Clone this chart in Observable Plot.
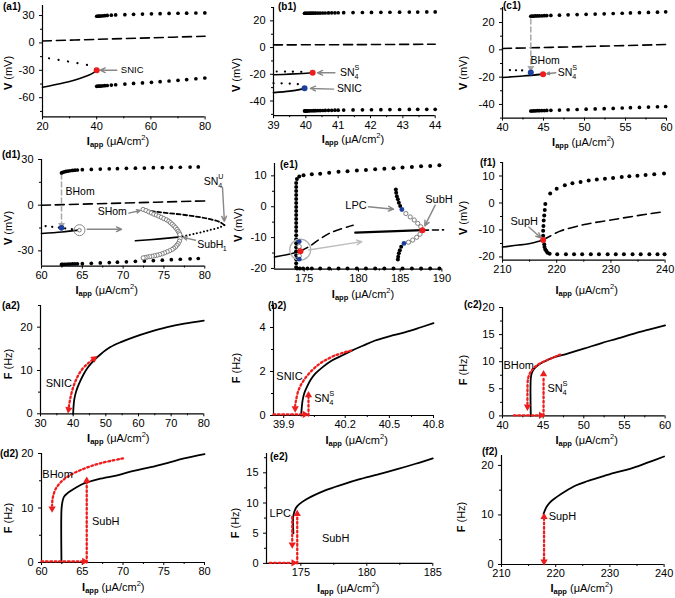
<!DOCTYPE html>
<html>
<head>
<meta charset="utf-8">
<script src="https://cdn.jsdelivr.net/npm/d3@7"></script>
<script src="https://cdn.jsdelivr.net/npm/@observablehq/plot@0.6"></script>
<style>
html,body{margin:0;padding:0;background:#fff;}
#fig{position:relative;width:675px;height:598px;overflow:hidden;background:#fff;font-family:"Liberation Sans",Arial,sans-serif;color:#000;}
.t{position:absolute;white-space:nowrap;font-size:11px;line-height:1;}
.pl{font-weight:bold;font-size:10px;transform:translateY(-50%);}
.xt{transform:translate(-50%,-50%);}
.yt{transform:translate(-50%,-50%) rotate(-90deg);}
.t sub{font-size:7.5px;font-weight:bold;vertical-align:-2px;line-height:0;}
.t sup{font-size:7.5px;vertical-align:5px;line-height:0;}
</style>
</head>
<body>
<div id="fig"></div>
<script>
// ================= DATA =================
// ---- (a1) ----
const a1Node=[[20,-48.6],[25,-45.6],[30,-42.3],[34,-38.8],[37,-35.5],[39,-32.3],[40,-29.8]];
const a1Saddle=[[22.4,-16.8],[26,-18.6],[29.8,-20.5],[33,-22.2],[36.6,-24.2],[39,-27],[40,-29.8]];
const a1Upper=[[20,2.2],[40,3.9],[60,5.6],[80,7.3]];
const a1OrbI=[40,40.5,41,41.5,42.2,43,43.9,45.4,47,50.4,53.6,56.9,60.2,63.4,66.7,70,73.2,76.6,79.9];
const a1MaxV=[29.2,29.3,29.4,29.5,29.7,29.9,30.1,30.4,30.7,31,31.3,31.6,31.9,32.1,32.3,32.5,32.6,32.8,32.9];
const a1MinV=[-47.5,-47.4,-47.3,-47.2,-47,-46.8,-46.6,-46.2,-45.8,-45.1,-44.4,-43.8,-43.1,-42.4,-41.7,-40.9,-40.1,-39.2,-38.4];
const a1Red=[[40,-29.8]];
const a1Labels=[[48.9,-29.9,"SNIC"]];
const a1Arrows=[[47.4,-29.9,41.3,-29.9]];

// ---- (b1) ----
const b1Upper=[[39,2],[41.5,2.2],[44,2.5]];
const b1SnSaddle=[[39.1,-17.9],[39.5,-18],[39.95,-18.2]];
const b1SnNode=[[39,-20.4],[39.5,-19.9],[39.9,-19.4],[40.21,-18.9]];
const b1SnicSaddle=[[39,-26.6],[39.5,-27],[39.9,-27.6]];
const b1SnicNode=[[39,-33.7],[39.5,-32.6],[39.8,-31.5],[39.96,-30.4]];
const b1OrbI=[39.96,39.98,40,40.03,40.06,40.1,40.15,40.2,40.25,40.3,40.37,40.44,40.52,40.6,40.7,40.8,40.9,41,41.17,41.46,41.75,42.03,42.32,42.6,42.9,43.2,43.46,43.74,44];
const b1MaxV=[25.7,25.7,25.7,25.7,25.7,25.75,25.75,25.8,25.8,25.8,25.85,25.85,25.9,25.9,25.95,26,26,26.05,26.1,26.2,26.25,26.3,26.4,26.45,26.5,26.55,26.6,26.65,26.7];
const b1MinV=[-47.4,-47.4,-47.4,-47.4,-47.35,-47.35,-47.3,-47.3,-47.25,-47.25,-47.2,-47.15,-47.1,-47.05,-47,-46.95,-46.9,-46.85,-46.8,-46.7,-46.6,-46.55,-46.5,-46.4,-46.35,-46.3,-46.25,-46.2,-46.2];
const b1Red=[[40.21,-18.9]];
const b1Blue=[[39.96,-30.4]];
const b1SnLabel=[[41.06,-18.9,"SN","4","S"]];
const b1Labels=[[40.96,-31.1,"SNIC"]];
const b1Arrows=[[40.9,-18.9,40.36,-18.9],[40.86,-31.1,40.14,-30.6]];

// ---- (c1) ----
const c1Upper=[[40,1],[50,2.4],[60,3.9]];
const c1Saddle=[[40.9,-14.8],[42.4,-15.1]];
const c1Node=[[40,-20.3],[42.5,-19.2],[44.95,-17.8]];
const c1OrbI=[43.45,43.6,43.8,44,44.25,44.5,44.8,45.1,45.4,45.9,46.95,48,49.1,50.2,51.3,52.4,53.5,54.6,55.6,56.7,57.8,58.9,59.9];
const c1MaxV=[24.6,24.7,24.7,24.8,24.8,24.9,24.9,25,25.1,25.2,25.4,25.6,25.8,26,26.2,26.4,26.6,26.8,27,27.2,27.4,27.6,27.8];
const c1MinV=[-44.8,-44.8,-44.7,-44.7,-44.6,-44.6,-44.5,-44.5,-44.4,-44.3,-44.1,-43.9,-43.7,-43.5,-43.3,-43.1,-42.9,-42.6,-42.4,-42.2,-41.9,-41.7,-41.5];
const c1Red=[[44.95,-17.8]];
const c1Blue=[[43.45,-16.6]];
const c1Drop=[[43.45,22.5],[43.45,-13.0]];
const c1DropHead=[[43.45,-13.4,180]];
const c1Labels=[[45.2,-8.1,"BHom"]];
const c1SnLabel=[[46.75,-16.6,"SN","4","S"]];
const c1Arrows=[[46.5,-16.8,45.4,-17.5]];

// ---- (d1) ----
const d1Upper=[[60,0],[70,1.4],[80,2.8]];
const d1Saddle=[[60.5,-13.7],[62.45,-14.9],[64.65,-16.4]];
const d1Node=[[60,-18.6],[62.5,-17.6],[64.65,-16.4]];
const d1Focus=[[71.5,-23.4],[74.5,-22.1],[77,-20.8]];
const d1SaddleHigh=[[72.6,-3.2],[74.2,-4.4],[77.8,-6.6],[80.3,-8.8],[81.8,-11],[82.4,-13.1]];
const d1SaddleLow=[[82.4,-13.1],[81.8,-14.6],[80.5,-16.5],[79,-18.5],[77,-20.8]];
const d1Unstable=[[72.45,-2.8],[72.8,-3.5],[73.14,-4.4],[73.45,-5.1],[73.76,-5.9],[74.07,-6.5],[74.37,-7.2],[74.68,-8.0],[74.98,-8.8],[75.3,-9.6],[75.59,-10.5],[75.8,-11.5],[76.0,-12.5],[76.22,-13.6],[76.41,-14.7],[76.6,-15.9],[76.74,-17.1],[76.86,-18.2],[76.94,-19.3],[76.97,-22.0],[76.9,-23.6],[76.74,-25.2],[76.58,-26.3],[76.41,-27.4],[76.2,-28.3],[76.0,-29.1],[75.7,-29.9],[75.39,-30.6],[75.08,-31.3],[74.78,-31.9],[74.47,-32.4],[74.16,-32.8],[73.85,-33.2],[73.55,-33.5],[73.24,-33.8],[72.94,-34.1],[72.7,-34.4],[72.45,-34.6]];
const d1OrbI=[62.45,62.6,62.8,63,63.25,63.5,63.8,64.1,64.4,65,66.1,67.2,68.3,69.3,70.4,71.5,72.6,73.7,74.8,75.9,77,78.2,79.2];
const d1MaxV=[21.2,21.6,21.9,22.2,22.4,22.6,22.8,23,23.1,23.3,23.5,23.7,23.9,24,24.2,24.3,24.4,24.6,24.7,24.8,24.9,25,25.1];
const d1MinV=[-38.9,-38.9,-38.8,-38.8,-38.7,-38.7,-38.6,-38.6,-38.5,-38.4,-38.2,-37.9,-37.7,-37.4,-37.2,-36.9,-36.7,-36.4,-36.1,-35.8,-35.5,-35.2,-35];
const d1Blue=[[62.45,-14.9]];
const d1Fold=[[64.65,-16.4]];
const d1Drop=[[62.45,20.5],[62.45,-12.6]];
const d1DropHead=[[62.45,-13.1,180]];
const d1Labels=[[62.94,8.7,"BHom"]];
const d1SHom=[[68.66,-4.4,"SHom"]];
const d1SnLabel=[[79.88,15.3,"SN","4","U"]];
const d1SubLabel=[[79.07,-25.8,"SubH","1",""]];
const d1Arrows=[[70.7,-5.2,72.1,-3.5],[82.17,11.6,82.4,-10.6],[78.86,-23,77.35,-21.1]];
const d1BigArrow=[[65.6,-15.8,69.8,-15.8]];

// ---- (e1) ----
const e1NodeLeft=[[172.3,-16.3],[173.5,-15.5],[174.66,-14.4]];
const e1SaddleLeft=[[174.66,-14.4],[175.5,-12.8],[176.3,-10.8],[177.5,-8.3],[179.5,-6.0]];
const e1Focus=[[179.7,-8.4],[183.7,-8.0],[187.67,-7.6]];
const e1Unstable=[[187.67,-7.6],[190.2,-7.5]];
const e1Column=[[174.27,-19.6],[174.27,-18.3],[174.27,-17],[174.27,-15.7],[174.27,-14.4],[174.27,-13.1],[174.27,-11.8],[174.27,-10.5],[174.27,-9.2],[174.27,-7.9],[174.27,-6.6],[174.27,-5.3],[174.27,-4],[174.27,-2.7],[174.27,-1.4],[174.27,-0.1],[174.27,1.2],[174.27,2.5],[174.27,3.8],[174.27,5.1],[174.27,6.4],[174.27,7.7]];
const e1Max=[[174.34,9.0],[174.55,9.8],[174.94,10.2],[175.7,10.5],[176.47,10.7],[177.3,11.0],[178.16,11.3],[178.99,11.5],[179.85,11.7],[180.89,11.9],[182,12.1],[183.1,12.3],[184.2,12.5],[185.28,12.7],[186.4,12.9],[187.5,13.1],[188.6,13.2],[189.7,13.4]];
const e1Min=[[174.35,-20],[174.6,-20],[174.9,-20],[175.3,-20],[175.7,-20],[176.47,-20],[177.3,-20],[178.16,-20],[178.99,-20],[179.85,-20],[180.89,-20],[182,-20],[183.1,-20],[184.2,-20],[185.28,-20],[186.4,-20],[187.5,-20],[188.6,-20],[189.7,-20]];
const e1LpcUp=[[184.48,5.6],[184.52,4.5],[184.6,3.4],[184.72,2.4],[184.84,1.3],[185.0,0.2]];
const e1LpcDown=[[185.12,-13],[184.96,-14.1],[184.84,-15.1],[184.76,-16.2],[184.72,-17.1]];
const e1Open=[[185.68,-2.2],[186.2,-3.3],[186.68,-4.3],[187.1,-5.4],[187.47,-6.5],[187.38,-8.9],[186.98,-9.9],[186.5,-10.8],[185.99,-11.5],[174.55,-12.9],[174.55,-15.9]];
const e1Blue=[[185.2,-0.9],[185.45,-11.9],[174.55,-11.3],[174.55,-17]];
const e1Red=[[174.66,-14.4],[187.67,-7.6]];
const e1Ring=[[174.64,-13.9]];
const e1Labels=[[179.77,0.5,"LPC"]];
const e1SubH=[[188.0,2.4,"SubH"]];
const e1Arrows=[[181.2,0,184.2,-0.8],[189.2,0.5,187.95,-6.2]];
const e1Pointer=[[175.4,-14,180.4,-11.3]];

// ---- (f1) ----
const f1Node=[[210,-16.3],[213,-15.6],[215.5,-14.8],[217.5,-13.7]];
const f1Unstable=[[217.5,-13.7],[218.3,-12.8],[220.8,-10.3],[225.1,-8.0],[230,-6.3],[234.9,-4.7],[239.8,-3.2]];
const f1Max=[[217.5,-12.1],[217.5,-10.3],[217.55,-8.5],[217.6,-6.5],[217.7,-4.6],[217.8,-2.6],[217.9,-0.4],[218.8,3.5],[220,5.3],[221.5,6.6],[222.9,7.3],[224.4,7.8],[225.9,8.3],[227.4,8.7],[228.9,9.0],[230.4,9.3],[232,9.6],[233.4,9.9],[234.9,10.1],[236.4,10.4],[238,10.6],[239.8,10.9]];
const f1Min=[[217.7,-15.3],[217.75,-16.3],[217.9,-17.2],[218.1,-17.8],[218.3,-18.4],[218.7,-18.8],[220.1,-19],[221.7,-19],[223.2,-19],[224.7,-19],[226.3,-19],[227.8,-19],[229.4,-19],[230.9,-19],[232.4,-19],[234,-19],[235.5,-19],[237.1,-19],[238.6,-19],[239.9,-19]];
const f1Red=[[217.5,-13.7]];
const f1Labels=[[214.0,-6.9,"SupH"]];
const f1Arrows=[[214.85,-8.9,217.1,-12.9]];

// ---- (a2) ----
const a2Curve=[[40,0],[40.1,1.5],[40.3,3.1],[40.7,4.6],[41.4,6.2],[42.2,7.6],[43.25,9.2],[44.6,10.8],[46.3,12.3],[48.5,13.8],[51.4,15.4],[54.8,16.6],[58.6,17.7],[63.5,18.9],[68.8,20],[74,20.8],[80,21.5]];
const a2Path=[[38.68,1.6],[39.19,3.8],[40.0,6.1],[41.23,8.4],[42.76,10.3],[44.5,11.6],[46.13,12.6]];
const a2Heads=[[38.6,1.0,190],[46.4,12.75,52]];
const a2Labels=[[35.6,6.9,"SNIC"]];

// ---- (b2) ----
const b2Curve=[[39.985,0],[39.988,0.35],[39.992,0.68],[40,1.0],[40.013,1.29],[40.03,1.6],[40.054,1.9],[40.09,2.2],[40.135,2.5],[40.19,2.75],[40.245,2.95],[40.32,3.17],[40.404,3.41],[40.5,3.6],[40.61,3.79],[40.71,4.0],[40.8,4.2]];
const b2Path=[[40.24,2.95],[40.151,2.73],[40.086,2.42],[40.038,2.05],[39.997,1.59],[39.972,1.14],[39.96,0.68],[39.956,0.45]];
const b2Flat=[[39.85,0.05],[39.995,0.05]];
const b2Rise=[[40.021,0],[40.021,0.82]];
const b2Heads=[[39.956,0.32,180],[40.003,0.05,90],[40.021,0.92,0]];
const b2Labels=[[39.928,1.77,"SNIC"]];
const b2SnLabel=[[40.049,0.76,"SN","4","S"]];

// ---- (c2) ----
const c2Curve=[[43.48,0],[43.48,6.9],[43.6,7.9],[43.9,8.7],[44.4,9.4],[45.1,10],[46.3,10.8],[48,11.5],[50,12.4],[52.1,13.4],[54.2,14.3],[56.2,15.2],[58,15.9],[60,16.7]];
const c2Path=[[47.1,11.3],[45.5,10.3],[44.3,9.4],[43.5,8.2],[43.15,6.9],[43.07,4.4],[43.07,2.2]];
const c2Flat=[[41.4,0.1],[44.6,0.1]];
const c2Rise=[[45.05,0],[45.05,7.3]];
const c2Heads=[[43.07,1.7,180],[44.75,0.1,90],[45.05,7.7,0]];
const c2Labels=[[42.0,9.35,"BHom"]];
const c2SnLabel=[[45.53,5.05,"SN","4","S"]];

// ---- (d2) ----
const d2Curve=[[62.45,0],[62.45,9.6],[62.55,11],[62.74,12],[63.1,12.6],[63.56,13.1],[64.3,13.8],[65.2,14.5],[67,15.3],[69.3,16],[71.3,16.8],[73.4,17.5],[75.5,18.3],[77.5,19.1],[80,19.9]];
const d2Path=[[70,19.1],[67.2,18.2],[65.2,17.2],[63.15,15.7],[61.9,13.9],[61.4,12],[61.3,10.4]];
const d2Flat=[[60,0.2],[65.1,0.2]];
const d2Rise=[[65.55,0],[65.55,14.6]];
const d2Heads=[[61.3,9.9,180],[65.25,0.2,90],[65.55,15,0]];
const d2Labels=[[60.1,16.1,"BHom"],[66.2,7.6,"SubH"]];

// ---- (e2) ----
const e2Curve=[[174.44,5],[174.44,8],[174.7,9.4],[175.33,10.5],[176.85,12.1],[178.2,13.1],[179.4,13.9],[180.8,14.7],[182.3,15.6],[183.7,16.5],[185,17.4]];
const e2Drop=[[174.35,7.7],[174.35,3.6]];
const e2Flat=[[172.65,0.1],[174.3,0.1]];
const e2Rise=[[174.73,0],[174.73,7.8]];
const e2Heads=[[174.35,3.1,180],[174.45,0.1,90],[174.73,8.2,0]];
const e2LPC=[[174.25,8.3,"LPC"]];
const e2Labels=[[176.6,4.1,"SubH"]];

// ---- (f2) ----
const f2Curve=[[217.75,10.2],[218.3,11.6],[219,12.6],[220.15,13.6],[221.8,14.8],[223.8,16],[225.8,16.8],[228.1,17.6],[230.8,18.5],[233.7,19.3],[236.8,20.5],[240,21.8]];
const f2Rise=[[217.85,1.0],[217.85,9.1]];
const f2Heads=[[217.85,9.6,0],[217.85,0.6,180]];
const f2Labels=[[218.7,9.7,"SupH"]];

// ---- tick values ----
const a1XTicks=[20,40,60,80], a1XMinor=[30,50,70], a1YTicks=[-60,-30,0,30], a1YMinor=[-75,-45,-15,15];
const b1XTicks=[39,40,41,42,43,44], b1XMinor=[39.5,40.5,41.5,42.5,43.5], b1YTicks=[-40,-20,0,20], b1YMinor=[-50,-30,-10,10,30];
const c1XTicks=[40,45,50,55,60], c1XMinor=[42.5,47.5,52.5,57.5], c1YTicks=[-40,-20,0,20], c1YMinor=[-50,-30,-10,10,30];
const d1XTicks=[60,65,70,75,80], d1XMinor=[62.5,67.5,72.5,77.5], d1YTicks=[-30,0,30], d1YMinor=[-15,15];
const e1XTicks=[175,180,185,190], e1XMinor=[177.5,182.5,187.5], e1YTicks=[-20,-10,0,10], e1YMinor=[-15,-5,5];
const f1XTicks=[210,220,230,240], f1XMinor=[215,225,235], f1YTicks=[-20,-10,0,10], f1YMinor=[-15,-5,5,15];
const a2XTicks=[30,40,50,60,70,80], a2XMinor=[35,45,55,65,75], a2YTicks=[0,10,20], a2YMinor=[5,15,25];
const b2XTicks=[39.9,40.2,40.5,40.8], b2XMinor=[40.05,40.35,40.65], b2YTicks=[0,2,4], b2YMinor=[1,3,5];
const c2XTicks=[40,45,50,55,60], c2XMinor=[42.5,47.5,52.5,57.5], c2YTicks=[0,5,10,15,20], c2YMinor=[2.5,7.5,12.5,17.5];
const d2XTicks=[60,65,70,75,80], d2XMinor=[62.5,67.5,72.5,77.5], d2YTicks=[0,10,20], d2YMinor=[5,15];
const e2XTicks=[175,180,185], e2XMinor=[177.5,182.5], e2YTicks=[0,5,10,15], e2YMinor=[2.5,7.5,12.5,17.5];
const f2XTicks=[210,220,230,240], f2XMinor=[215,225,235], f2YTicks=[0,10,20], f2YMinor=[5,15];

// ---- text ----
const panelNames=["(a1)","(b1)","(c1)","(d1)","(e1)","(f1)","(a2)","(b2)","(c2)","(d2)","(e2)","(f2)"];
const yTitleLetters=["V","V","V","V","V","V","F","F","F","F","F","F"];
const yTitleUnits=["mV","mV","mV","mV","mV","mV","Hz","Hz","Hz","Hz","Hz","Hz"];

// ================= LAYOUT =================
const panelPos=[[3,7],[278,7],[503,6],[2,155],[280,165],[480,163],[2,306],[268,306],[464,305],[0,454],[270,457],[482,452]];
const xTitlePos=[[118,141],[353,139],[583.3,141.5],[106.7,289.5],[363,293.5],[586.7,290],[118.3,437.5],[356.7,439.5],[586.7,440],[113.3,586.5],[348.3,587.5],[581.7,588]];
const yTitlePos=[[8,73],[236.3,75],[463,73],[7.5,227.5],[238,225],[463,217.5],[8,364],[236.3,367.5],[463,370],[7.5,518],[234.7,523],[461.3,516.7]];

const RED="#ee1c1c", BLUE="#1d3f9e", GRAY="#878787";
const X=d=>d[0], Y=d=>d[1];
const pairs=(xs,ys)=>xs.map((x,i)=>[x,ys[i]]);
const fig=document.getElementById("fig");

function solid(d,w=1.6){return Plot.line(d,{x:X,y:Y,stroke:"black",strokeWidth:w,curve:"catmull-rom"});}
function dashed(d,dash="8,5",w=1.6){return Plot.line(d,{x:X,y:Y,stroke:"black",strokeWidth:w,strokeDasharray:dash,curve:"catmull-rom"});}
function dotted(d,gap=7,w=2.2){return Plot.line(d,{x:X,y:Y,stroke:"black",strokeWidth:w,strokeDasharray:"0.1,"+gap,strokeLinecap:"round",curve:"catmull-rom"});}
function orbit(d,r=1.85){return Plot.dot(d,{x:X,y:Y,r,fill:"black",stroke:"none"});}
function pts(d,fill,r=2.9){return Plot.dot(d,{x:X,y:Y,r,fill,stroke:"none"});}
function openC(d,r=2.1){return Plot.dot(d,{x:X,y:Y,r,fill:"white",stroke:"#707070",strokeWidth:0.9});}
function redPath(d){return Plot.line(d,{x:X,y:Y,stroke:RED,strokeWidth:2.3,strokeDasharray:"1.8,2.6",curve:"catmull-rom"});}
function heads(d,fill=RED,r=2.7){return Plot.dot(d,{x:X,y:Y,r,fill,stroke:"none",symbol:"triangle",rotate:d=>d[2]});}
function garrow(d,stroke=GRAY,w=1.4){return Plot.arrow(d,{x1:d=>d[0],y1:d=>d[1],x2:d=>d[2],y2:d=>d[3],stroke,strokeWidth:w,headLength:6,headAngle:50});}
function txt(d,size=10.5,anchor="start"){return Plot.text(d,{x:X,y:Y,text:d=>d[2],fontSize:size,textAnchor:anchor,fill:"black"});}
function subsup(d,size,w){
  return [
    Plot.text(d,{x:X,y:Y,text:d=>d[2],fontSize:size,textAnchor:"start",fill:"black"}),
    Plot.text(d,{x:X,y:Y,text:d=>d[3],fontSize:size*0.68,textAnchor:"start",dx:w,dy:size*0.38,fill:"black"}),
    Plot.text(d,{x:X,y:Y,text:d=>d[4],fontSize:size*0.68,textAnchor:"start",dx:w,dy:-size*0.45,fill:"black"})
  ];
}

function panel(s,marks){
  const ml=46,mr=24,mt=10,mb=16;
  const ox=s.L-ml, oy=s.T-mt;
  const w=ml+(s.R-s.L)+mr, h=mt+(s.B-s.T)+mb;
  const xr=(s.xr||[s.L,s.R]).map(v=>v-ox);
  const yr=[s.B-oy,s.T-oy];
  const tf=d=>String(d);
  const svg=Plot.plot({
    width:w,height:h,marginLeft:ml,marginRight:mr,marginTop:mt,marginBottom:mb,
    x:{type:"linear",domain:s.xd,range:xr},
    y:{type:"linear",domain:s.yd,range:yr},
    style:{background:"transparent",overflow:"visible",fontFamily:'"Liberation Sans", Arial, sans-serif',fontSize:"11px",color:"black"},
    marks:[
      Plot.ruleX([s.xd[0]],{stroke:"black",strokeWidth:1.2}),
      Plot.ruleY([s.yd[0]],{stroke:"black",strokeWidth:1.2}),
      Plot.axisX({ticks:s.xt,tickSize:3,tickPadding:2,tickFormat:tf,label:null}),
      Plot.axisX({ticks:s.xm,tickSize:2,tickFormat:()=>"",label:null}),
      Plot.axisY({ticks:s.yt,tickSize:3,tickPadding:5,tickFormat:tf,label:null}),
      Plot.axisY({ticks:s.ym,tickSize:2,tickFormat:()=>"",label:null}),
      ...marks
    ]
  });
  svg.style.position="absolute";
  svg.style.left=ox+"px";
  svg.style.top=oy+"px";
  fig.appendChild(svg);
}

// ---- (a1) ----
panel({L:41.7,R:204.3,T:5.3,B:116.7,xd:[20,80],yd:[-81,41],xt:a1XTicks,xm:a1XMinor,yt:a1YTicks,ym:a1YMinor},[
  dashed(a1Upper,"9,5"), dotted(a1Saddle,9.5), solid(a1Node),
  orbit(pairs(a1OrbI,a1MaxV)), orbit(pairs(a1OrbI,a1MinV)),
  garrow(a1Arrows), pts(a1Red,RED,3), txt(a1Labels,9.5)
]);
// ---- (b1) ----
panel({L:273.3,R:435,T:6.6,B:114.8,xd:[39,44],yd:[-51,30],xt:b1XTicks,xm:b1XMinor,yt:b1YTicks,ym:b1YMinor},[
  dashed(b1Upper,"9,5"), dotted(b1SnSaddle,8), solid(b1SnNode), dotted(b1SnicSaddle,8), solid(b1SnicNode),
  orbit(pairs(b1OrbI,b1MaxV)), orbit(pairs(b1OrbI,b1MinV)),
  garrow(b1Arrows), pts(b1Red,RED,3), pts(b1Blue,BLUE,3),
  ...subsup(b1SnLabel,10.5,14.5), txt(b1Labels,10.5)
]);
// ---- (c1) ----
panel({L:501.7,R:665.7,T:6.7,B:117.3,xd:[40,60],yd:[-50,31],xt:c1XTicks,xm:c1XMinor,yt:c1YTicks,ym:c1YMinor},[
  dashed(c1Upper,"9,5"), dotted(c1Saddle,6), solid(c1Node),
  Plot.line(c1Drop,{x:X,y:Y,stroke:"#a8a8a8",strokeWidth:1.5,strokeDasharray:"5,3"}), heads(c1DropHead,"#a8a8a8",2.6),
  orbit(pairs(c1OrbI,c1MaxV)), orbit(pairs(c1OrbI,c1MinV)),
  garrow(c1Arrows), pts(c1Red,RED,3), pts(c1Blue,BLUE,3),
  txt(c1Labels,10.5,"middle"), ...subsup(c1SnLabel,10.5,14.5)
]);
// ---- (d1) ----
panel({L:41,R:204.3,T:159.3,B:265.9,xd:[60,80],yd:[-40,30],xt:d1XTicks,xm:d1XMinor,yt:d1YTicks,ym:d1YMinor},[
  dashed(d1Upper,"9,5"), dotted(d1Saddle,6.5), solid(d1Node), solid(d1Focus),
  dashed(d1SaddleHigh,"4,2.5",1.8), dotted(d1SaddleLow,3.5,2),
  Plot.line(d1Drop,{x:X,y:Y,stroke:"#a8a8a8",strokeWidth:1.5,strokeDasharray:"5,3"}), heads(d1DropHead,"#a8a8a8",2.6),
  orbit(pairs(d1OrbI,d1MaxV)), orbit(pairs(d1OrbI,d1MinV)),
  openC(d1Unstable,2.1),
  Plot.dot(d1Fold,{x:X,y:Y,r:5.5,fill:"none",stroke:"#8a8a8a",strokeWidth:1}),
  openC(d1Fold,1.8),
  pts(d1Blue,BLUE,2.8),
  garrow(d1Arrows), garrow(d1BigArrow),
  txt(d1Labels,10.5), txt(d1SHom,10.5,"middle"),
  ...subsup(d1SnLabel,10.5,14.5), ...subsup(d1SubLabel,10.5,25.5)
]);
// ---- (e1) ----
panel({L:274.3,R:441.7,T:163.4,B:269,xd:[172.3,175,180,185,190],xr:[274.3,304,358.3,400,441.7],yd:[-20.2,14],xt:e1XTicks,xm:e1XMinor,yt:e1YTicks,ym:e1YMinor},[
  solid(e1NodeLeft), dashed(e1SaddleLeft,"8,5"), solid(e1Focus,2.2), dashed(e1Unstable,"6,4"),
  orbit(e1Column,2), orbit(e1Max,2), orbit(e1Min,2), orbit(e1LpcUp,2), orbit(e1LpcDown,2),
  Plot.dot(e1Ring,{x:X,y:Y,r:10.5,fill:"none",stroke:"#b0b0b0",strokeWidth:1.3}),
  openC(e1Open,2.1), pts(e1Blue,BLUE,2.4), pts(e1Red,RED,3),
  garrow(e1Pointer,"#bdbdbd",1.4), garrow(e1Arrows),
  txt(e1Labels,11,"middle"), txt(e1SubH,11)
]);
// ---- (f1) ----
panel({L:501.7,R:664.3,T:161.5,B:259.2,xd:[210,240],yd:[-21.2,15],xt:f1XTicks,xm:f1XMinor,yt:f1YTicks,ym:f1YMinor},[
  solid(f1Node), dashed(f1Unstable,"9,5"),
  orbit(f1Max,2), orbit(f1Min,2),
  garrow(f1Arrows), pts(f1Red,RED,3),
  txt(f1Labels,11,"middle")
]);
// ---- (a2) ----
panel({L:40,R:203.3,T:305,B:413.3,xd:[30,80],yd:[0,25],xt:a2XTicks,xm:a2XMinor,yt:a2YTicks,ym:a2YMinor},[
  solid(a2Curve,1.8), redPath(a2Path), heads(a2Heads),
  txt(a2Labels,11,"middle")
]);
// ---- (b2) ----
panel({L:273.3,R:433.3,T:305,B:415,xd:[39.85,39.9,40.2,40.8],xr:[273.3,283.5,345,433.3],yd:[0,5],xt:b2XTicks,xm:b2XMinor,yt:b2YTicks,ym:b2YMinor},[
  solid(b2Curve,1.8), redPath(b2Path), redPath(b2Flat), redPath(b2Rise), heads(b2Heads),
  txt(b2Labels,11,"middle"), ...subsup(b2SnLabel,11,15)
]);
// ---- (c2) ----
panel({L:501.7,R:664.3,T:307.3,B:415.7,xd:[40,60],yd:[0,20],xt:c2XTicks,xm:c2XMinor,yt:c2YTicks,ym:c2YMinor},[
  solid(c2Curve,1.8), redPath(c2Path), redPath(c2Flat), redPath(c2Rise), heads(c2Heads),
  txt(c2Labels,11,"middle"), ...subsup(c2SnLabel,11,15)
]);
// ---- (d2) ----
panel({L:41,R:204,T:453.3,B:562.3,xd:[60,80],yd:[0,20],xt:d2XTicks,xm:d2XMinor,yt:d2YTicks,ym:d2YMinor},[
  solid(d2Curve,1.8), redPath(d2Path), redPath(d2Flat), redPath(d2Rise), heads(d2Heads),
  txt(d2Labels,11)
]);
// ---- (e2) ----
panel({L:266,R:432.3,T:453.4,B:563.3,xd:[172.4,185],yd:[0,18.2],xt:e2XTicks,xm:e2XMinor,yt:e2YTicks,ym:e2YMinor},[
  solid(e2Curve,1.8), redPath(e2Drop), redPath(e2Flat), redPath(e2Rise), heads(e2Heads),
  txt(e2LPC,11,"end"), txt(e2Labels,11)
]);
// ---- (f2) ----
panel({L:500.7,R:663.3,T:455,B:564,xd:[210,240],yd:[0,22],xt:f2XTicks,xm:f2XMinor,yt:f2YTicks,ym:f2YMinor},[
  solid(f2Curve,1.8), redPath(f2Rise), heads(f2Heads),
  txt(f2Labels,11)
]);

// ---- HTML titles ----
function addDiv(cls,html,x,y){
  const d=document.createElement("div");
  d.className="t "+cls; d.innerHTML=html;
  d.style.left=x+"px"; d.style.top=y+"px";
  fig.appendChild(d);
}
panelNames.forEach((n,i)=>addDiv("pl",n,panelPos[i][0],panelPos[i][1]));
xTitlePos.forEach(p=>addDiv("xt",'<b>I</b><sub>app</sub> (\u03bcA/cm<sup>2</sup>)',p[0],p[1]));
yTitlePos.forEach((p,i)=>addDiv("yt",'<b>'+yTitleLetters[i]+'</b> ('+yTitleUnits[i]+')',p[0],p[1]));
</script>
</body>
</html>
